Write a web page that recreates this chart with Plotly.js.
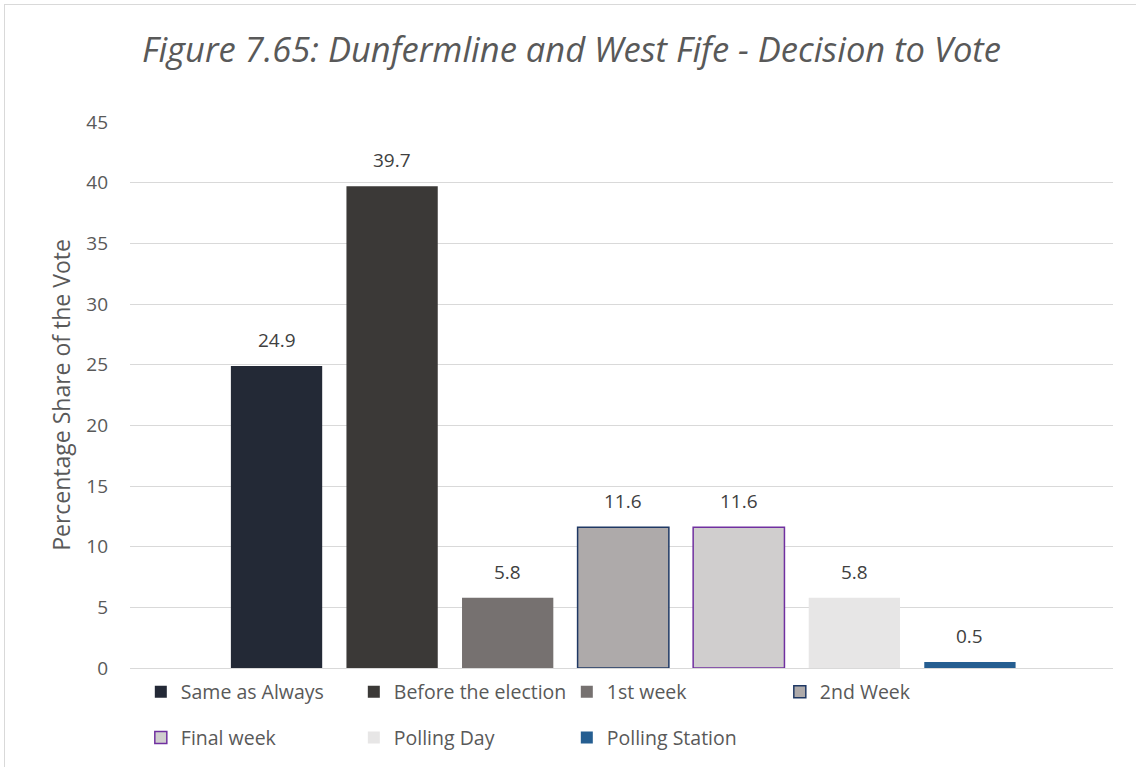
<!DOCTYPE html>
<html>
<head>
<meta charset="utf-8">
<script src="https://cdn.plot.ly/plotly-3.0.1.min.js"></script>
<style>
  html, body { margin: 0; padding: 0; background: #ffffff; }
  #wrap { position: relative; width: 1136px; height: 767px; overflow: hidden; }
  #chart { position: absolute; left: 0; top: 0; width: 1136px; height: 767px; }
  #frame { position: absolute; left: 4px; top: 4px; width: 1140px; height: 780px;
           border-left: 1px solid #d9d9d9; border-top: 1px solid #d9d9d9; pointer-events: none; }
</style>
</head>
<body>
<div id="wrap">
  <div id="chart"></div>
  <div id="frame"></div>
</div>
<script>
// ---- data ----
const seriesNames = ["Same as Always", "Before the election", "1st week", "2nd Week",
                     "Final week", "Polling Day", "Polling Station"];
const seriesValues = [24.9, 39.7, 5.8, 11.6, 11.6, 5.8, 0.5];
const seriesColors = ["#232936", "#3b3937", "#767170", "#aeaaaa", "#d0cece", "#e7e6e6", "#255e91"];
const seriesLineColors = [null, null, null, "#1f3864", "#7030a0", null, null];
const yTicks = [0, 5, 10, 15, 20, 25, 30, 35, 40, 45];
const titleText = "Figure 7.65: Dunfermline and West Fife - Decision to Vote";
const yTitleText = "Percentage Share of the Vote";

const FONT = "'Open Sans', 'Noto Sans', sans-serif";
const GREY = "#595959";

const traces = seriesNames.map((name, i) => ({
  type: "bar",
  name: name,
  x: [name],
  y: [seriesValues[i]],
  marker: {
    color: seriesColors[i],
    line: seriesLineColors[i] ? { color: seriesLineColors[i], width: 1.5 } : { width: 0 }
  },
  legend: i < 4 ? "legend" : "legend2",
  hoverinfo: "none"
}));

const annotations = seriesNames.map((name, i) => ({
  x: name, y: seriesValues[i], xref: "x", yref: "y",
  text: seriesValues[i].toFixed(1),
  showarrow: false, yanchor: "bottom", yshift: 11,
  font: { family: FONT, size: 19, color: "#404040" }
}));

const legendCommon = {
  orientation: "h", xanchor: "left", yanchor: "middle",
  entrywidth: 168, entrywidthmode: "pixels",
  font: { family: FONT, size: 19.5, color: GREY },
  bgcolor: "rgba(0,0,0,0)", itemclick: false, itemdoubleclick: false,
  traceorder: "normal"
};

const layout = {
  width: 1136, height: 767,
  paper_bgcolor: "#ffffff", plot_bgcolor: "#ffffff",
  margin: { l: 130, r: 23, t: 122, b: 99, autoexpand: false },
  font: { family: FONT, color: GREY },
  title: {
    text: "<i>" + titleText + "</i>",
    xref: "container", yref: "container",
    x: 0.503, y: 0.935, xanchor: "center", yanchor: "middle",
    font: { family: FONT, size: 34.5, color: GREY }
  },
  barmode: "overlay",
  bargap: 0.21,
  showlegend: true,
  xaxis: {
    type: "category",
    categoryorder: "array", categoryarray: seriesNames,
    range: [-1.268, 7.238],
    showticklabels: false, ticks: "", showgrid: false, zeroline: false,
    showline: false, fixedrange: true
  },
  yaxis: {
    range: [0, 45], tickvals: yTicks, ticktext: yTicks.map(String),
    showgrid: true, gridcolor: "#d9d9d9", gridwidth: 1,
    zeroline: true, zerolinecolor: "#d9d9d9", zerolinewidth: 1,
    showline: false, ticks: "", ticklabelstandoff: 21,
    tickfont: { family: FONT, size: 19, color: GREY },
    title: { text: yTitleText, standoff: 9, font: { family: FONT, size: 23, color: GREY } },
    automargin: false, fixedrange: true
  },
  legend: Object.assign({}, legendCommon, { x: 0.011, y: -0.044 }),
  legend2: Object.assign({}, legendCommon, { x: 0.011, y: -0.128 }),
  annotations: annotations
};

Plotly.newPlot("chart", traces, layout, { staticPlot: true, displayModeBar: false });
</script>
</body>
</html>
